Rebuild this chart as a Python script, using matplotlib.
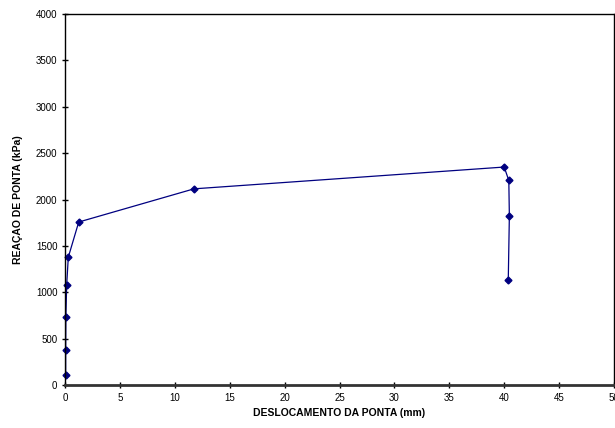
import numpy as np
import matplotlib
matplotlib.use('Agg')
import matplotlib.pyplot as plt

plt.rcParams['font.family'] = ['Liberation Sans', 'DejaVu Sans']

# deslocamento da ponta (mm) e reacao de ponta (kPa)
deslocamento = [0.06, 0.06, 0.08, 0.15, 0.3, 1.25, 11.75, 40.0, 40.42, 40.47, 40.37]
reacao = [110, 375, 735, 1075, 1378, 1757, 2115, 2350, 2205, 1822, 1130]

xticks = np.arange(0, 51, 5)
yticks = np.arange(0, 4001, 500)

fig = plt.figure(figsize=(6.15, 4.28), dpi=100)
ax = fig.add_axes([65/615, 43/428, 549/615, 371/428])

ax.plot(deslocamento, reacao, color='#000080', lw=0.9, marker='D', ms=3.5,
        markerfacecolor='#000080', markeredgecolor='#000080', clip_on=False)

ax.set_xlim(0, 50)
ax.set_ylim(0, 4000)
ax.set_xticks(xticks)
ax.set_yticks(yticks)
ax.tick_params(direction='inout', length=5, width=1, labelsize=7, pad=3)
for s in ax.spines.values():
    s.set_linewidth(1)
ax.spines['bottom'].set_linewidth(2)
ax.spines['bottom'].set_color('#333333')

ax.set_xlabel('DESLOCAMENTO DA PONTA (mm)', fontsize=7.5, fontweight='bold', labelpad=4)
ax.set_ylabel('REAÇAO DE PONTA (kPa)', fontsize=7.5, fontweight='bold', labelpad=9)

plt.savefig('out.png', dpi=100)
plt.close()
